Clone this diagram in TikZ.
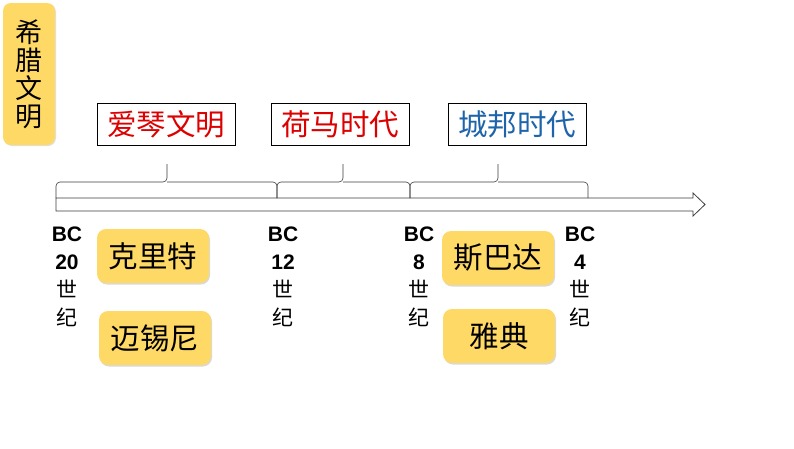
\documentclass[tikz,border=0pt]{standalone}
\usepackage{fontspec}
\setmainfont{Liberation Sans}
\newfontfamily\cjk{Noto Sans CJK SC}
\usetikzlibrary{shadows}

\definecolor{goldfill}{RGB}{255,217,102}
\definecolor{erared}{RGB}{220,0,0}
\definecolor{erablue}{RGB}{30,100,170}
\definecolor{axisgray}{RGB}{60,60,60}

\tikzset{
    titlebox/.style={fill=goldfill, rounded corners=8pt, minimum width=52pt, minimum height=142pt,
        align=center, font=\cjk\fontsize{27}{28}\selectfont,
        drop shadow={opacity=0.25, shadow xshift=1pt, shadow yshift=-1pt}},
    erabox/.style={draw=black, line width=0.8pt, minimum width=138pt, minimum height=42pt,
        font=\cjk\fontsize{29.5}{31}\selectfont},
    placebox/.style={fill=goldfill, rounded corners=9pt, minimum width=112pt, minimum height=54pt,
        font=\cjk\fontsize{29.5}{31}\selectfont,
        drop shadow={opacity=0.3, shadow xshift=1pt, shadow yshift=-1.5pt}},
    datelabel/.style={align=center, font=\fontsize{21}{28}\selectfont},
    periodbrace/.style={draw=axisgray, line width=0.6pt, rounded corners=4pt}
}

\begin{document}
\begin{tikzpicture}[x=1pt, y=-1pt]
    \useasboundingbox (0,0) rectangle (794,448);

    % title
    \node[titlebox] (greece) at (29,74) {希\\腊\\文\\明};

    % eras
    \node[erabox, text=erared] (aegean) at (166,124) {爱琴文明};
    \node[erabox, text=erared] (homer) at (340,124) {荷马时代};
    \node[erabox, text=erablue] (polis) at (517,124) {城邦时代};

    % time axis
    \coordinate (bc20) at (56,198);
    \coordinate (bc12) at (277,198);
    \coordinate (bc8) at (410,198);
    \coordinate (bc4) at (588,198);
    \draw[axisgray, line width=0.8pt] (56,198) -- (693,198) -- (693,193) -- (705,204.5)
        -- (693,216) -- (693,211) -- (56,211) -- cycle;

    % braces
    \draw[periodbrace] (bc20) |- (167,182) -- (167,164);
    \draw[periodbrace] (bc12) |- (167,182);
    \draw[periodbrace] (bc12) |- (343,182) -- (343,164);
    \draw[periodbrace] (bc8) |- (343,182);
    \draw[periodbrace] (bc8) |- (498,182) -- (498,164);
    \draw[periodbrace] (bc4) |- (498,182);

    % dates
    \node[datelabel] (d20) at (67,277) {\textbf{BC}\\\textbf{20}\\{\cjk 世}\\{\cjk 纪}};
    \node[datelabel] (d12) at (283,277) {\textbf{BC}\\\textbf{12}\\{\cjk 世}\\{\cjk 纪}};
    \node[datelabel] (d8) at (419,277) {\textbf{BC}\\\textbf{8}\\{\cjk 世}\\{\cjk 纪}};
    \node[datelabel] (d4) at (580,277) {\textbf{BC}\\\textbf{4}\\{\cjk 世}\\{\cjk 纪}};

    % places
    \node[placebox] (crete) at (153,256) {克里特};
    \node[placebox] (mycenae) at (155,338) {迈锡尼};
    \node[placebox] (sparta) at (498,258) {斯巴达};
    \node[placebox] (athens) at (499,336) {雅典};
\end{tikzpicture}
\end{document}
